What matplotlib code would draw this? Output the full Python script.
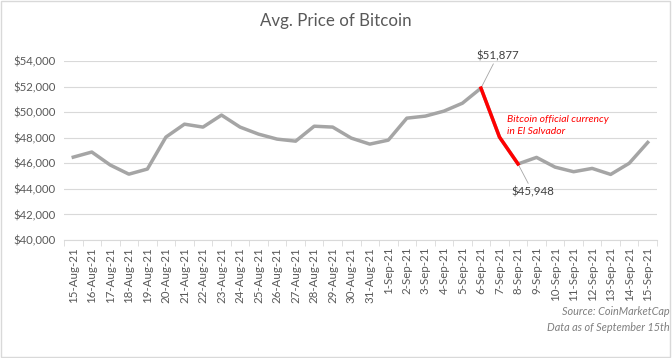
import numpy as np
import matplotlib
matplotlib.use('Agg')
import matplotlib.pyplot as plt

dates = ['15-Aug-21', '16-Aug-21', '17-Aug-21', '18-Aug-21', '19-Aug-21', '20-Aug-21',
         '21-Aug-21', '22-Aug-21', '23-Aug-21', '24-Aug-21', '25-Aug-21', '26-Aug-21',
         '27-Aug-21', '28-Aug-21', '29-Aug-21', '30-Aug-21', '31-Aug-21', '1-Sep-21',
         '2-Sep-21', '3-Sep-21', '4-Sep-21', '5-Sep-21', '6-Sep-21', '7-Sep-21',
         '8-Sep-21', '9-Sep-21', '10-Sep-21', '11-Sep-21', '12-Sep-21', '13-Sep-21',
         '14-Sep-21', '15-Sep-21']
prices = [46480, 46880, 45860, 45150, 45550, 48050, 49060, 48830, 49770, 48830,
          48280, 47890, 47730, 48900, 48830, 47970, 47500, 47810, 49530, 49690,
          50080, 50700, 51877, 48050, 45948, 46460, 45700, 45340, 45600, 45130,
          46000, 47630]
hl_start, hl_end = 22, 24  # 6-Sep to 8-Sep

plt.rcParams['font.family'] = ['Lato', 'DejaVu Sans']

fig = plt.figure(figsize=(6.72, 3.58), dpi=100)
ax = fig.add_axes([64/672, 1 - 240/358, (657 - 64)/672, (240 - 61)/358])

x = np.arange(len(dates))
grey = '#a5a5a5'
ax.plot(x, prices, color=grey, lw=2.5, solid_joinstyle='round', zorder=3)
ax.plot(x[hl_start:hl_end + 1], prices[hl_start:hl_end + 1], color='#ff0000', lw=2.5, zorder=4)

ax.set_xlim(-0.5, len(dates) - 0.5)
ax.set_ylim(40000, 54000)
ax.set_yticks(range(40000, 54001, 2000))
ax.yaxis.set_major_formatter(matplotlib.ticker.FuncFormatter(lambda v, p: f'${v:,.0f}'))
ax.grid(axis='y', color='#d9d9d9', lw=0.8)
ax.set_axisbelow(True)

ax.set_xticks(x)
ax.set_xticklabels(dates, rotation=90, fontsize=8.3, color='#595959')
ax.set_xticks(np.arange(-0.5, len(dates), 1), minor=True)
ax.tick_params(axis='x', which='major', length=0, pad=5)
ax.tick_params(axis='x', which='minor', length=4, color='#d9d9d9')
ax.tick_params(axis='y', length=0, labelsize=8.2, labelcolor='#595959', pad=6)
for s in ['top', 'right', 'left']:
    ax.spines[s].set_visible(False)
ax.spines['bottom'].set_color('#d9d9d9')

fig.suptitle('Avg. Price of Bitcoin', x=0.5, y=0.965, fontsize=12.2, color='#595959')

# annotations
ax.annotate(f'${prices[hl_start]:,}', xy=(x[hl_start], prices[hl_start]),
            xytext=(12, 19.5), textcoords='offset points', ha='center', va='bottom',
            fontsize=8.3, color='#404040',
            arrowprops=dict(arrowstyle='-', color='#a5a5a5', lw=0.6, shrinkA=0, shrinkB=0))
ax.annotate(f'${prices[hl_end]:,}', xy=(x[hl_end], prices[hl_end]),
            xytext=(10.5, -16), textcoords='offset points', ha='center', va='top',
            fontsize=8.3, color='#404040',
            arrowprops=dict(arrowstyle='-', color='#a5a5a5', lw=0.6, shrinkA=0, shrinkB=0))
ax.text(x[hl_end] - 0.6, 49800, 'Bitcoin official currency\nin El Salvador',
        color='#ff0000', fontsize=7.5, style='italic', va='top', ha='left', linespacing=1.45)

fig.text(0.997, 0.07, 'Source: CoinMarketCap\nData as of September 15th', ha='right', va='bottom',
         fontsize=7.8, style='italic', color='#7f7f7f', linespacing=1.5)

fig.patches.append(plt.Rectangle((0.002, 0.003), 0.995, 0.993, transform=fig.transFigure,
                                 fill=False, edgecolor='#d9d9d9', lw=1))

fig.savefig('out.png', dpi=100)
